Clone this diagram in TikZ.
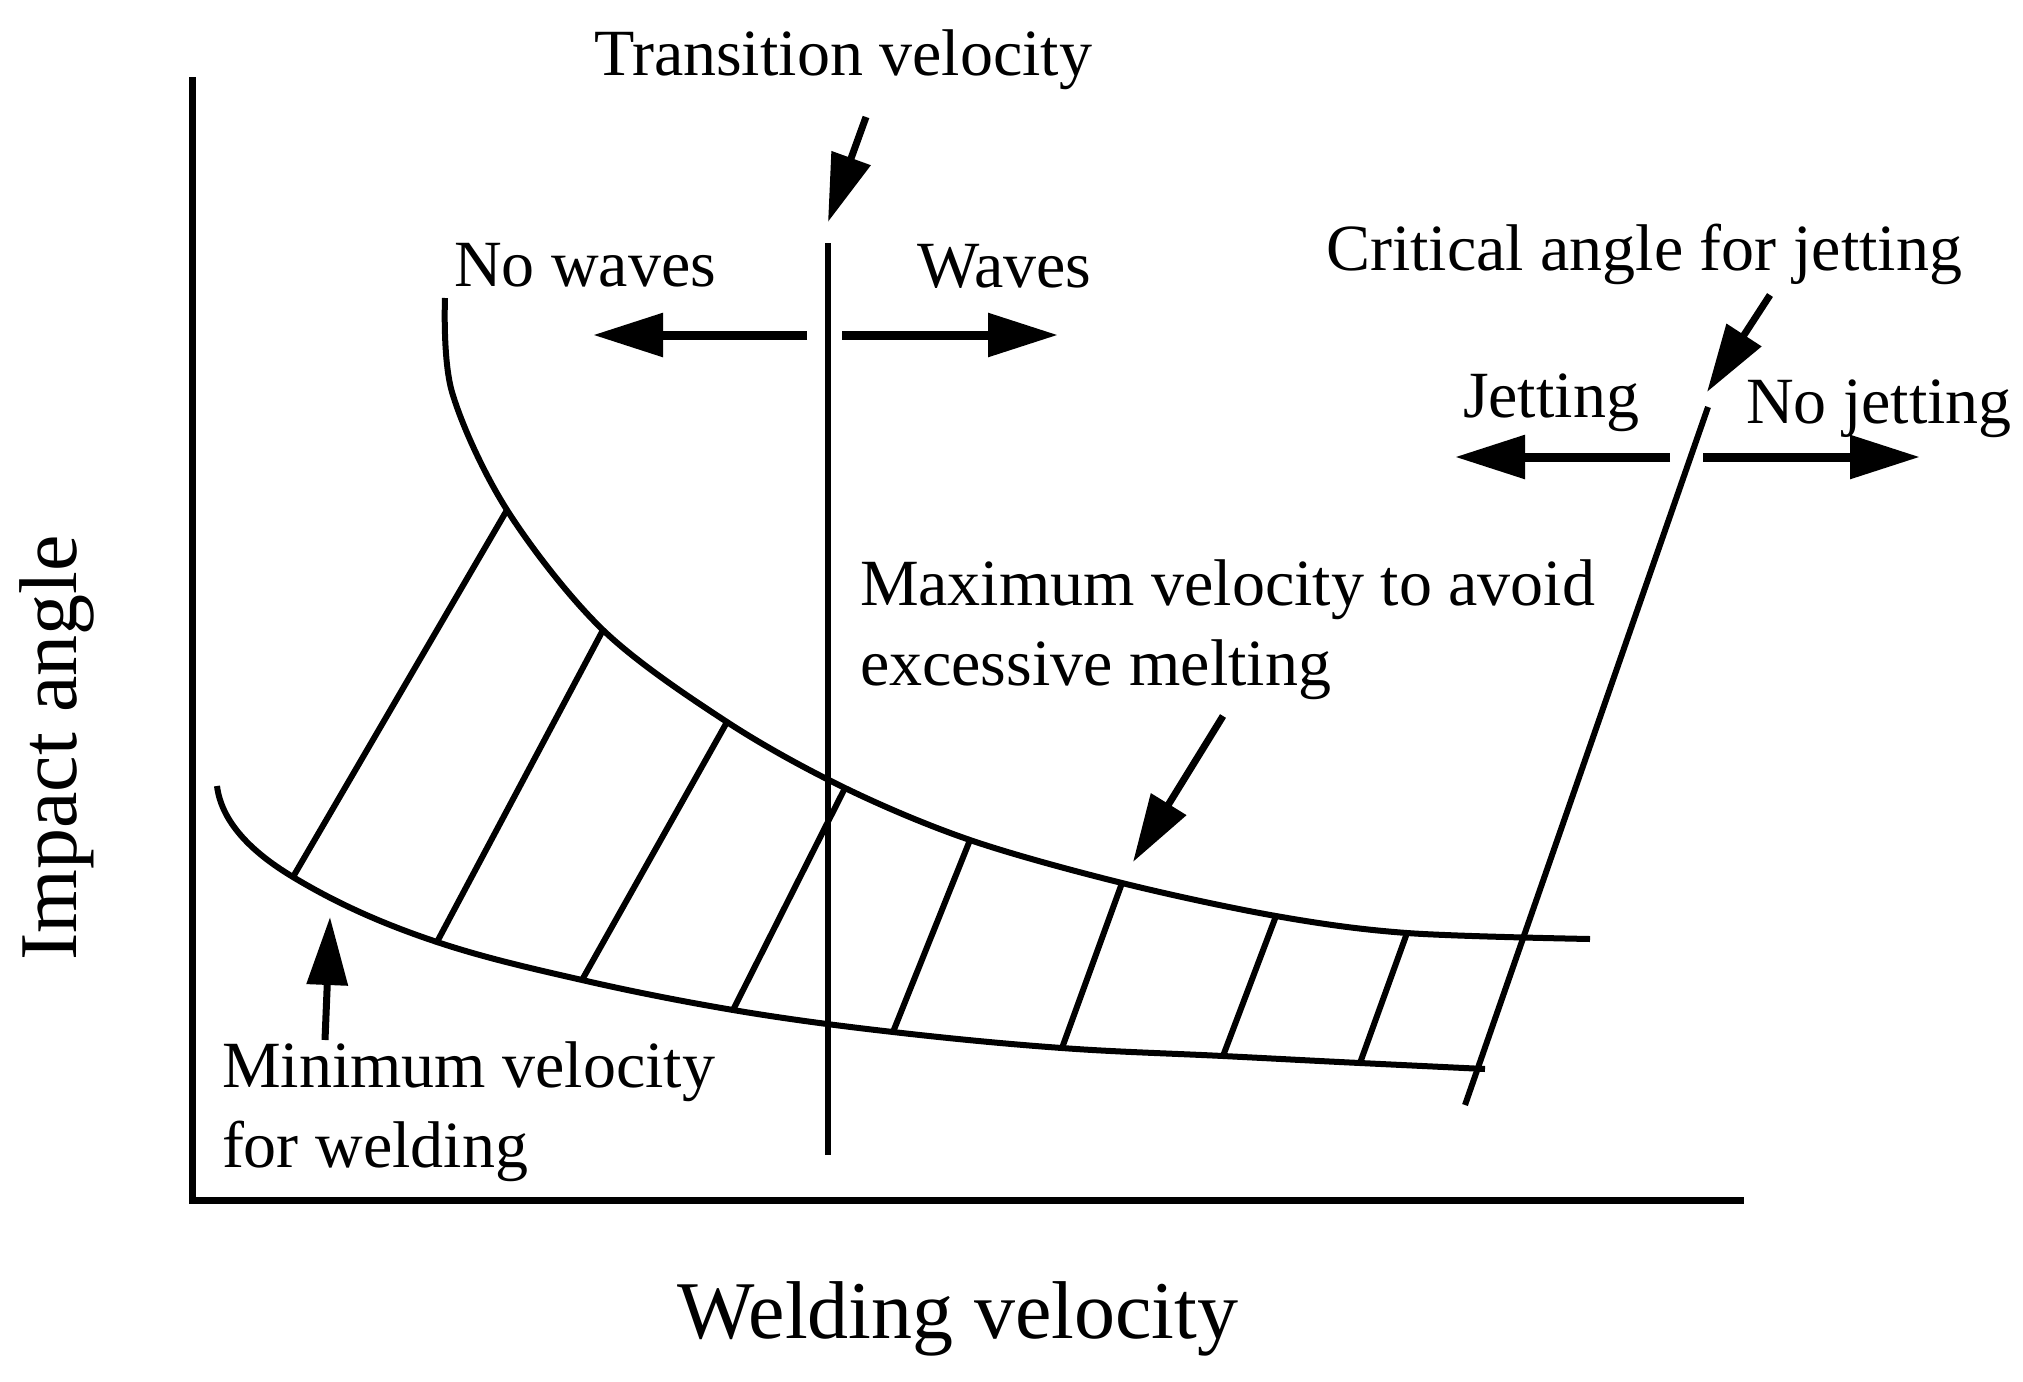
\documentclass[tikz,border=0pt]{standalone}
\usepackage{fontspec}
\setmainfont{Liberation Serif}
\usetikzlibrary{arrows.meta}

\tikzset{every picture/.style={line width=3pt}}
\tikzset{
  lbl/.style={anchor=base west, inner sep=0pt, font=\fontsize{33}{40}\selectfont},
  axlbl/.style={anchor=base, inner sep=0pt, font=\fontsize{41}{48}\selectfont},
  pointer/.style={line width=3.5pt, -{Triangle[length=34pt,width=20pt]}},
  dirarrow/.style={line width=4.5pt, -{Triangle[length=35pt,width=21pt]}},
}

\begin{document}
\begin{tikzpicture}[x=0.5pt,y=0.5pt,yscale=-1,xscale=1]
\useasboundingbox (0,0) rectangle (2023,1381);

% curve points: upper = maximum velocity, lower = minimum velocity
\coordinate (u0) at (445,298);  \coordinate (ua) at (452,392);
\coordinate (u1) at (507,510);  \coordinate (u2) at (603,630);
\coordinate (u3) at (727,722);  \coordinate (u4) at (845,788);
\coordinate (u5) at (970,840);  \coordinate (u6) at (1122,883);
\coordinate (u7) at (1276,916); \coordinate (u8) at (1407,933);
\coordinate (ue) at (1590,939);
\coordinate (l0) at (217,786);
\coordinate (l1) at (293,877);  \coordinate (l2) at (437,942);
\coordinate (l3) at (582,980);  \coordinate (l4) at (733,1010);
\coordinate (l5) at (893,1032); \coordinate (l6) at (1062,1048);
\coordinate (l7) at (1223,1056); \coordinate (l8) at (1360,1063);
\coordinate (le) at (1485,1069);

%Axes
\coordinate (origin) at (192,1200);
\coordinate (ytop) at (192,77);
\coordinate (xend) at (1744,1200);
\draw [line width=3.5pt] (ytop) -- (origin) -- (xend);

%Curve Lines
\draw plot [smooth, tension=0.55] coordinates {(u0) (ua) (u1) (u2) (u3) (u4) (u5) (u6) (u7) (u8) (ue)};
\draw (l0) .. controls (222,826) and (258,856) .. (l1)
  .. controls (341,906) and (389,926) .. (l2)
  .. controls (485,958) and (534,969) .. (l3)
  .. controls (632,991.5) and (683,1001.5) .. (l4)
  .. controls (786,1019) and (840,1026) .. (l5)
  .. controls (949,1038.4) and (1006,1044) .. (l6)
  .. controls (1116,1052) and (1169,1053.3) .. (l7)
  .. controls (1269,1058.3) and (1314,1060.8) .. (l8)
  .. controls (1402,1065) and (1443,1067) .. (le);

%Straight Lines (hatching)
\foreach \i in {1,...,8}
  \draw (l\i) -- (u\i);

%Straight Lines: transition velocity and critical angle
\coordinate (trtop) at (828,243);
\coordinate (trbot) at (828,1155);
\draw (trtop) -- (trbot);
\coordinate (crtop) at (1708,407);
\coordinate (crbot) at (1465,1105);
\draw (crbot) -- (crtop);

% Text Node
\node (trans) [lbl] at (591,75) {Transition velocity};
\node (nowaves) [lbl] at (451,286) {No waves};
\node (waves) [lbl] at (914,287) {Waves};
\node (crit) [lbl] at (1323,270) {Critical angle for jetting};
\node (jet) [lbl] at (1460,417) {Jetting};
\node (nojet) [lbl] at (1743,423) {No jetting};
\node (maxv) [lbl, align=left, anchor=north west] at (857,557) {Maximum velocity to avoid\\excessive melting};
\node (minv) [lbl, align=left, anchor=north west] at (219,1039) {Minimum velocity\\for welding};
\node (xlab) [axlbl] at (958,1338) {Welding velocity};
\node (ylab) [axlbl, rotate=90] at (76,748) {Impact angle};

%Arrows
\coordinate (trtail) at (866,117);  \coordinate (trtip) at (828,222);
\coordinate (crtail) at (1770,295); \coordinate (crtip) at (1707,392);
\coordinate (mxtail) at (1223,716); \coordinate (mxtip) at (1133,862);
\coordinate (mntail) at (325,1040); \coordinate (mntip) at (330,917);
\draw [pointer] (trtail) -- (trtip);
\draw [pointer] (crtail) -- (crtip);
\draw [pointer] (mxtail) -- (mxtip);
\draw [pointer] (mntail) -- (mntip);

\coordinate (nwstart) at (807,335);  \coordinate (nwend) at (593,335);
\coordinate (wstart) at (842,335);   \coordinate (wend) at (1058,335);
\coordinate (jstart) at (1670,457);  \coordinate (jend) at (1455,457);
\coordinate (njstart) at (1703,457); \coordinate (njend) at (1920,457);
\draw [dirarrow] (nwstart) -- (nwend);
\draw [dirarrow] (wstart) -- (wend);
\draw [dirarrow] (jstart) -- (jend);
\draw [dirarrow] (njstart) -- (njend);

\end{tikzpicture}
\end{document}
